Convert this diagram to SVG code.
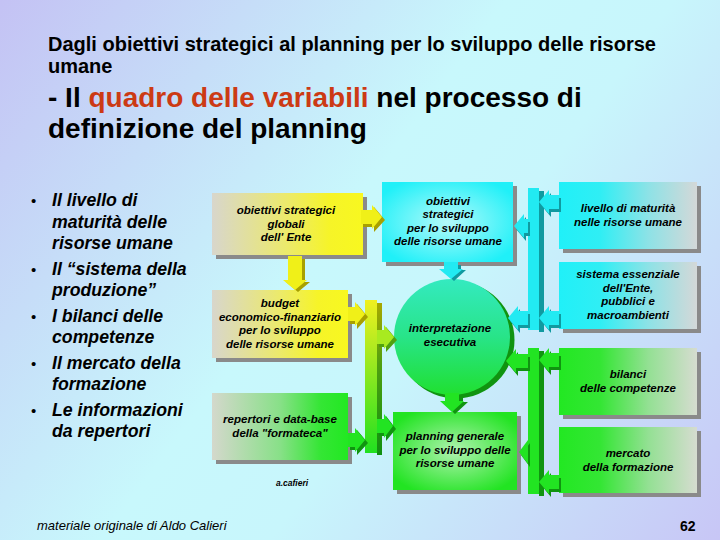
<svg xmlns="http://www.w3.org/2000/svg" width="720" height="540" viewBox="0 0 720 540">
<defs>
  <linearGradient id="bg" gradientUnits="userSpaceOnUse" x1="0" y1="0" x2="720" y2="540">
    <stop offset="0" stop-color="#c4c2f4"/>
    <stop offset="0.45" stop-color="#c8f8fc"/>
    <stop offset="0.6" stop-color="#c8f6fc"/>
    <stop offset="1" stop-color="#c8c6f6"/>
  </linearGradient>
  <linearGradient id="gYellow" x1="0" y1="0" x2="1" y2="0">
    <stop offset="0" stop-color="#d8d6cc"/>
    <stop offset="0.5" stop-color="#ecea6a"/>
    <stop offset="0.78" stop-color="#f6f428"/>
    <stop offset="1" stop-color="#f8f820"/>
  </linearGradient>
  <linearGradient id="gGreenL" x1="0" y1="0" x2="1" y2="0">
    <stop offset="0" stop-color="#d4d8cc"/>
    <stop offset="0.5" stop-color="#88e088"/>
    <stop offset="0.8" stop-color="#34e634"/>
    <stop offset="1" stop-color="#22e822"/>
  </linearGradient>
  <linearGradient id="gCyanR" x1="0" y1="0" x2="1" y2="0">
    <stop offset="0" stop-color="#20f0f8"/>
    <stop offset="0.3" stop-color="#30eef4"/>
    <stop offset="0.65" stop-color="#8ee2e6"/>
    <stop offset="1" stop-color="#d4d8d8"/>
  </linearGradient>
  <linearGradient id="gGreenR" x1="0" y1="0" x2="1" y2="0">
    <stop offset="0" stop-color="#22e822"/>
    <stop offset="0.3" stop-color="#34e634"/>
    <stop offset="0.65" stop-color="#94e094"/>
    <stop offset="1" stop-color="#d6dcd0"/>
  </linearGradient>
  <radialGradient id="rCyan" cx="0.5" cy="0.5" r="0.6">
    <stop offset="0" stop-color="#b4fafa"/>
    <stop offset="1" stop-color="#20f0f8"/>
  </radialGradient>
  <radialGradient id="rGreen" cx="0.5" cy="0.5" r="0.6">
    <stop offset="0" stop-color="#b0f2b0"/>
    <stop offset="1" stop-color="#22e422"/>
  </radialGradient>
  <linearGradient id="gCircle" x1="0" y1="0" x2="0" y2="1">
    <stop offset="0" stop-color="#34eac0"/>
    <stop offset="0.5" stop-color="#28e488"/>
    <stop offset="1" stop-color="#20e030"/>
  </linearGradient>
  <linearGradient id="gBarL" x1="0" y1="0" x2="0" y2="1">
    <stop offset="0" stop-color="#f0f020"/>
    <stop offset="0.35" stop-color="#a8ea20"/>
    <stop offset="1" stop-color="#20e020"/>
  </linearGradient>
  <linearGradient id="gBarLd" x1="0" y1="0" x2="0" y2="1">
    <stop offset="0" stop-color="#a8a800"/>
    <stop offset="0.4" stop-color="#50a010"/>
    <stop offset="1" stop-color="#109010"/>
  </linearGradient>
</defs>
<style>
  .ttl { font-family: "Liberation Sans", Arial, sans-serif; font-weight: bold; fill: #000; }
  .bul { font-family: "Liberation Sans", Arial, sans-serif; font-weight: bold; font-style: italic; font-size: 17.7px; fill: #000; }
  .dot { font-family: "Liberation Sans", Arial, sans-serif; font-size: 15px; fill: #000; }
  .t { font-family: "Liberation Sans", Arial, sans-serif; font-weight: bold; font-style: italic; font-size: 11.5px; fill: #000; text-anchor: middle; }
  .sh { fill: #8a8a8a; }
  .yl { fill: #f0f018; }
  .yd { fill: #a8a000; }
  .cl { fill: #22eaf2; }
  .cd { fill: #109aa0; }
  .gl { fill: #22e422; }
  .gd { fill: #109410; }
</style>

<rect x="0" y="0" width="720" height="540" fill="url(#bg)"/>

<!-- titles -->
<text class="ttl" x="48" y="51" font-size="20">Dagli obiettivi strategici al planning per lo sviluppo delle risorse</text>
<text class="ttl" x="48" y="73" font-size="20">umane</text>
<text class="ttl" x="48" y="107" font-size="28">- Il <tspan fill="#cc3a14">quadro delle variabili</tspan> nel processo di</text>
<text class="ttl" x="48" y="138" font-size="28">definizione del planning</text>

<!-- bullets -->
<g id="bullets">
  <text class="dot" x="31" y="206">•</text>
  <text class="bul" x="52" y="206">Il livello di</text>
  <text class="bul" x="52" y="227.5">maturità delle</text>
  <text class="bul" x="52" y="249">risorse umane</text>
  <text class="dot" x="31" y="274.5">•</text>
  <text class="bul" x="52" y="274.5">Il “sistema della</text>
  <text class="bul" x="52" y="296">produzione”</text>
  <text class="dot" x="31" y="321.5">•</text>
  <text class="bul" x="52" y="321.5">I bilanci delle</text>
  <text class="bul" x="52" y="343">competenze</text>
  <text class="dot" x="31" y="368.5">•</text>
  <text class="bul" x="52" y="368.5">Il mercato della</text>
  <text class="bul" x="52" y="390">formazione</text>
  <text class="dot" x="31" y="415.5">•</text>
  <text class="bul" x="52" y="415.5">Le informazioni</text>
  <text class="bul" x="52" y="437">da repertori</text>
</g>

<!-- nodes -->
<g id="n-obiettivi-globali">
  <rect class="sh" x="216" y="197" width="151" height="62"/>
  <rect x="212" y="193" width="151" height="62" fill="url(#gYellow)"/>
  <text class="t" x="286" y="214">obiettivi strategici</text>
  <text class="t" x="286" y="227.5">globali</text>
  <text class="t" x="286" y="241">dell' Ente</text>
</g>
<g id="n-budget">
  <rect class="sh" x="216" y="294" width="136" height="68"/>
  <rect x="212" y="290" width="136" height="68" fill="url(#gYellow)"/>
  <text class="t" x="280" y="307">budget</text>
  <text class="t" x="280" y="320.5">economico-finanziario</text>
  <text class="t" x="280" y="334">per lo sviluppo</text>
  <text class="t" x="280" y="347.5">delle risorse umane</text>
</g>
<g id="n-repertori">
  <rect class="sh" x="216" y="397" width="136" height="67"/>
  <rect x="212" y="393" width="136" height="67" fill="url(#gGreenL)"/>
  <text class="t" x="280" y="423">repertori e data-base</text>
  <text class="t" x="280" y="436.5">della "formateca"</text>
</g>
<g id="n-obiettivi-sviluppo">
  <rect class="sh" x="386" y="186" width="131" height="80"/>
  <rect x="382" y="182" width="131" height="80" fill="url(#rCyan)"/>
  <text class="t" x="448" y="204.5">obiettivi</text>
  <text class="t" x="448" y="218">strategici</text>
  <text class="t" x="448" y="231.5">per lo sviluppo</text>
  <text class="t" x="448" y="245">delle risorse umane</text>
</g>
<g id="n-interpretazione">
  <circle cx="456" cy="340" r="58.5" fill="#109410"/>
  <circle cx="452" cy="337" r="58" fill="url(#gCircle)"/>
  <text class="t" x="450" y="332">interpretazione</text>
  <text class="t" x="450" y="345.5">esecutiva</text>
</g>
<g id="n-planning">
  <rect class="sh" x="397" y="416" width="124" height="78"/>
  <rect x="393" y="412" width="124" height="78" fill="url(#rGreen)"/>
  <text class="t" x="455" y="440">planning generale</text>
  <text class="t" x="455" y="453.5">per lo sviluppo delle</text>
  <text class="t" x="455" y="467">risorse umane</text>
</g>
<g id="n-livello">
  <rect class="sh" x="563" y="186" width="138" height="67"/>
  <rect x="559" y="182" width="138" height="67" fill="url(#gCyanR)"/>
  <text class="t" x="628" y="212">livello di maturità</text>
  <text class="t" x="628" y="225.5">nelle risorse umane</text>
</g>
<g id="n-sistema">
  <rect class="sh" x="563" y="266" width="138" height="67"/>
  <rect x="559" y="262" width="138" height="67" fill="url(#gCyanR)"/>
  <text class="t" x="628" y="278">sistema essenziale</text>
  <text class="t" x="628" y="291.5">dell'Ente,</text>
  <text class="t" x="628" y="305">pubblici e</text>
  <text class="t" x="628" y="318.5">macroambienti</text>
</g>
<g id="n-bilanci">
  <rect class="sh" x="563" y="352" width="138" height="67"/>
  <rect x="559" y="348" width="138" height="67" fill="url(#gGreenR)"/>
  <text class="t" x="628" y="378">bilanci</text>
  <text class="t" x="628" y="391.5">delle competenze</text>
</g>
<g id="n-mercato">
  <rect class="sh" x="563" y="431" width="138" height="66"/>
  <rect x="559" y="427" width="138" height="66" fill="url(#gGreenR)"/>
  <text class="t" x="628" y="457">mercato</text>
  <text class="t" x="628" y="470.5">della formazione</text>
</g>

<!-- connectors -->
<g id="connectors">
  <!-- box1 -> obiettivi sviluppo -->
  <polygon class="yd" points="363,212 374,212 374,207 385,220 374,232 374,227 363,227"/>
  <polygon class="yl" points="361,210 372,210 372,205 382,217 372,229 372,224 361,224"/>
  <!-- box1 -> budget -->
  <polygon class="yd" points="290,259 305,259 305,282 310,282 298,292 286,282 290,282"/>
  <polygon class="yl" points="288,256 302,256 302,280 307,280 295,290 283,280 288,280"/>
  <!-- left bar -->
  <rect x="377" y="303" width="5" height="152" fill="url(#gBarLd)"/>
  <rect x="365" y="300" width="12" height="153" fill="url(#gBarL)"/>
  <!-- budget -> bar -->
  <polygon class="yd" points="350,309 357,309 357,304 368,317 357,329 357,324 350,324"/>
  <polygon class="yl" points="348,307 355,307 355,302 365,314 355,326 355,321 348,321"/>
  <!-- bar -> circle -->
  <polygon fill="#50a010" points="379,332 386,332 386,327 397,340 386,352 386,347 379,347"/>
  <polygon fill="#a8ea20" points="377,330 384,330 384,325 394,337 384,349 384,344 377,344"/>
  <!-- repertori -> bar -->
  <polygon class="gd" points="350,435 357,435 357,430 368,443 357,455 357,450 350,450"/>
  <polygon class="gl" points="348,433 355,433 355,428 365,440 355,452 355,447 348,447"/>
  <!-- bar -> planning -->
  <polygon class="gd" points="379,421 386,421 386,416 396,429 386,441 386,436 379,436"/>
  <polygon class="gl" points="377,419 384,419 384,414 393,426 384,438 384,433 377,433"/>

  <!-- obiettivi sviluppo -> circle -->
  <polygon class="cd" points="446,265 461,265 461,270 466,270 454,281 442,270 446,270"/>
  <polygon class="cl" points="444,262 458,262 458,269 463,269 451,279 439,269 444,269"/>
  <!-- circle -> planning -->
  <polygon class="gd" points="448,396 463,396 463,402 468,402 455,414 442,402 448,402"/>
  <polygon class="gl" points="445,393 459,393 459,401 464,401 452,412 440,401 445,401"/>

  <!-- right cyan bar -->
  <rect x="539" y="191" width="5" height="141" fill="#109aa0"/>
  <rect x="528" y="188" width="11" height="142" class="cl"/>
  <!-- livello -> bar -->
  <polygon class="cd" points="561,198 551,198 551,193 541,205 551,217 551,212 561,212"/>
  <polygon class="cl" points="559,195 549,195 549,190 539,202 549,214 549,209 559,209"/>
  <!-- bar -> obiettivi sviluppo -->
  <polygon class="cd" points="530,222 526,222 526,217 516,229 526,241 526,236 530,236"/>
  <polygon class="cl" points="528,219 524,219 524,214 514,226 524,238 524,233 528,233"/>
  <!-- sistema -> bar -->
  <polygon class="cd" points="561,314 551,314 551,309 541,321 551,333 551,328 561,328"/>
  <polygon class="cl" points="559,311 549,311 549,306 539,318 549,330 549,325 559,325"/>
  <!-- bar -> circle -->
  <polygon class="cd" points="530,314 520,314 520,309 510,321 520,333 520,328 530,328"/>
  <polygon class="cl" points="528,311 518,311 518,306 508,318 518,330 518,325 528,325"/>

  <!-- right green bar -->
  <rect x="539" y="351" width="5" height="145" class="gd"/>
  <rect x="528" y="348" width="11" height="146" class="gl"/>
  <!-- bilanci -> bar -->
  <polygon class="gd" points="561,356 551,356 551,351 541,363 551,375 551,370 561,370"/>
  <polygon class="gl" points="559,353 549,353 549,348 539,360 549,372 549,367 559,367"/>
  <!-- bar -> circle -->
  <polygon class="gd" points="530,357 518,357 518,352 508,364 518,376 518,371 530,371"/>
  <polygon class="gl" points="528,354 516,354 516,349 506,361 516,373 516,368 528,368"/>
  <!-- bar -> planning -->
  <polygon class="gd" points="530,443 521,455 530,467"/>
  <polygon class="gl" points="528,440 519,452 528,464"/>
  <!-- mercato -> bar -->
  <polygon class="gd" points="561,478 551,478 551,473 541,485 551,497 551,492 561,492"/>
  <polygon class="gl" points="559,475 549,475 549,470 539,482 549,494 549,489 559,489"/>
</g>

<text x="292" y="486" font-family="'Liberation Sans', Arial, sans-serif" font-weight="bold" font-style="italic" font-size="8.5" text-anchor="middle" fill="#000">a.cafieri</text>

<text x="37" y="530" font-family="'Liberation Sans', Arial, sans-serif" font-style="italic" font-size="13" fill="#000">materiale originale di Aldo Calieri</text>
<text x="680" y="531" font-family="'Liberation Sans', Arial, sans-serif" font-weight="bold" font-size="14" fill="#000">62</text>
</svg>
